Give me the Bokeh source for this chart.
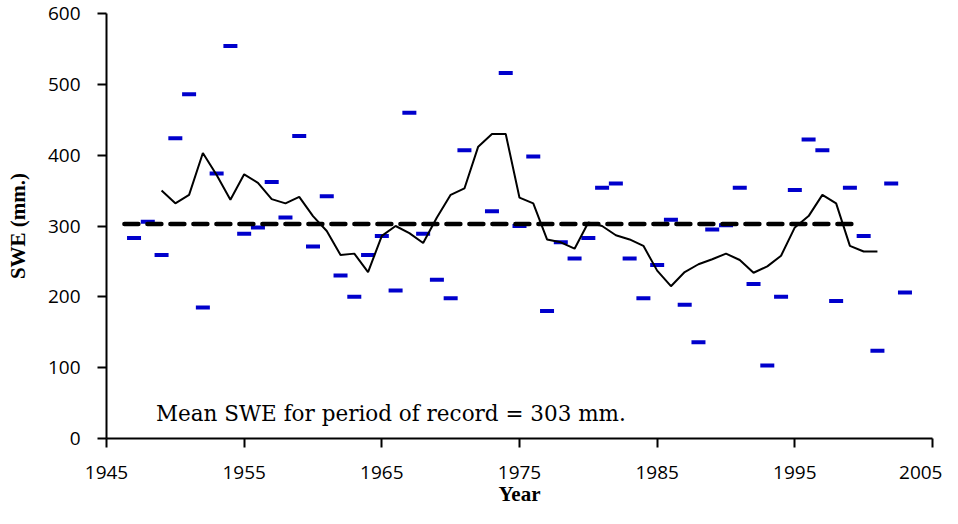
from bokeh.plotting import figure
from bokeh.models import Label, FixedTicker, ColumnDataSource
from bokeh.embed import file_html
from bokeh.resources import INLINE

# Annual SWE observations (1972 not shown in the reference)
obs_years = [1947, 1948, 1949, 1950, 1951, 1952, 1953, 1954, 1955, 1956,
             1957, 1958, 1959, 1960, 1961, 1962, 1963, 1964, 1965, 1966,
             1967, 1968, 1969, 1970, 1971, 1973, 1974, 1975, 1976, 1977,
             1978, 1979, 1980, 1981, 1982, 1983, 1984, 1985, 1986, 1987,
             1988, 1989, 1990, 1991, 1992, 1993, 1994, 1995, 1996, 1997,
             1998, 1999, 2000, 2001, 2002, 2003]
obs_swe = [283, 306, 259, 424, 486, 185, 374, 554, 289, 298,
           362, 312, 427, 271, 342, 230, 200, 259, 286, 209,
           460, 289, 224, 198, 407, 321, 516, 300, 398, 180,
           277, 254, 283, 354, 360, 254, 198, 245, 309, 189,
           136, 295, 301, 354, 218, 103, 200, 351, 422, 407,
           194, 354, 286, 124, 360, 206]

# Running mean
avg_years = list(range(1949, 2002))
avg_swe = [350, 332, 344, 403, 372, 337, 373, 361, 338, 332,
           341, 314, 293, 259, 261, 235, 286, 300, 290, 276,
           312, 344, 353, 412, 430, 430, 340, 332, 281, 277,
           268, 305, 300, 287, 281, 272, 237, 215, 235, 246,
           253, 261, 252, 234, 243, 258, 298, 314, 344, 332,
           272, 264, 264]

# Period-of-record mean
mean_years = [1946.3, 1999.7]
mean_swe = [303, 303]

x_ticks = [1945, 1955, 1965, 1975, 1985, 1995, 2005]
y_ticks = [0, 100, 200, 300, 400, 500, 600]

p = figure(width=942, height=508, x_range=(1945, 2005), y_range=(0, 600),
           output_backend="svg", toolbar_location=None,
           min_border_left=106, min_border_right=10, min_border_top=13,
           min_border_bottom=69)
p.outline_line_color = None
p.xgrid.grid_line_color = None
p.ygrid.grid_line_color = None
p.background_fill_color = "white"

src = ColumnDataSource(dict(x=obs_years, y=obs_swe))
p.rect(x="x", y="y", width=14, height=4, width_units="screen",
       height_units="screen", source=src, fill_color="#0000cc",
       line_color=None)
p.line(avg_years, avg_swe, line_color="black", line_width=2)
p.line(mean_years, mean_swe, line_color="black", line_width=4.5,
       line_dash="14 9", line_cap="round")

tick_font = "Open Sans"
for ax in (p.xaxis[0], p.yaxis[0]):
    ax.axis_line_color = "black"
    ax.axis_line_width = 2
    ax.major_tick_line_color = "black"
    ax.major_tick_line_width = 2
    ax.major_tick_in = 0
    ax.minor_tick_line_color = None
    ax.major_label_text_font = tick_font
    ax.major_label_text_font_size = "19px"
    ax.major_label_text_color = "black"
    ax.axis_label_text_font = "Liberation Serif"
    ax.axis_label_text_font_style = "bold"
    ax.axis_label_text_font_size = "21px"
    ax.axis_label_text_color = "black"

p.xaxis.ticker = FixedTicker(ticks=x_ticks)
p.yaxis.ticker = FixedTicker(ticks=y_ticks)
p.xaxis.major_tick_out = 9
p.yaxis.major_tick_out = 9
p.xaxis.major_label_standoff = 18
p.yaxis.major_label_standoff = 17
p.xaxis.axis_label = "Year"
p.yaxis.axis_label = "SWE (mm.)"
p.xaxis.axis_label_standoff = 0
p.yaxis.axis_label_standoff = 15

p.add_layout(Label(x=1948.6, y=35, text="Mean SWE  for period of record = 303 mm.",
                   text_font="DejaVu Serif", text_font_size="21.5px",
                   text_color="black", text_baseline="alphabetic"))

open("out.html", "w").write(file_html(p, INLINE))
